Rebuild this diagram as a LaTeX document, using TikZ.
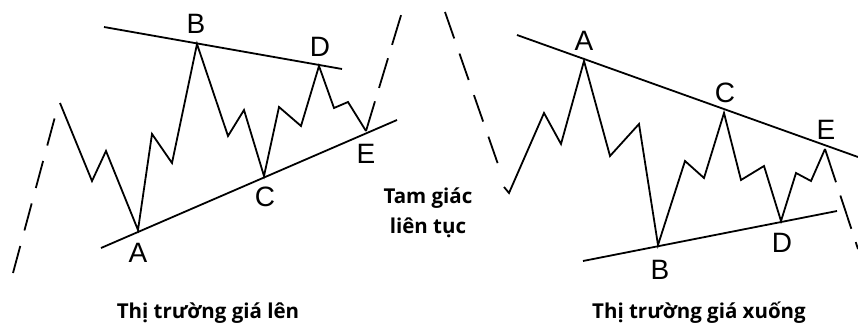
\documentclass[tikz,border=0pt]{standalone}
\usepackage{fontspec}
\setmainfont{Liberation Sans}
\newfontfamily\capfont{Open Sans}
\newcommand{\wavewidth}{1.8pt}
\tikzset{ptlabel/.style={inner sep=0pt, font=\fontsize{28}{28}\selectfont}}
\tikzset{wave/.style={line width=\wavewidth, line join=miter}}
\tikzset{trendline/.style={line width=\wavewidth}}
\tikzset{contline/.style={line width=\wavewidth, dash pattern=on 28pt off 16pt}}
\tikzset{caption/.style={inner sep=0pt, anchor=base, align=center, font=\capfont\bfseries\fontsize{20.5}{30}\selectfont}}

\begin{document}
\begin{tikzpicture}[x=1pt,y=-1pt]
\useasboundingbox (0,0) rectangle (858,326);

% rising market
\coordinate (la) at (138,230);
\coordinate (lb) at (197,44);
\coordinate (lc) at (264,176);
\coordinate (ld) at (319,66);
\coordinate (le) at (366,131);

\draw[contline] (13,273) -- (56,113);
\draw[wave] (60,103) -- (92,181) -- (106,151) -- (la) -- (152,134) -- (172,163) -- (lb)
  -- (228,136) -- (244,110) -- (lc) -- (279,107) -- (301,126) -- (ld)
  -- (334,108) -- (348,102) -- (le);
\draw[contline, dash pattern=on 31pt off 14pt] (le) -- (402,12);

\draw[trendline] (104,27) -- (342,69);
\draw[trendline] (101,248) -- (397,120);

\node[ptlabel] (labelA1) at (138,253) {A};
\node[ptlabel] (labelB1) at (196,24) {B};
\node[ptlabel] (labelC1) at (265,197) {C};
\node[ptlabel] (labelD1) at (320,47) {D};
\node[ptlabel] (labelE1) at (366,154) {E};

% falling market
\coordinate (ra) at (584,61);
\coordinate (rb) at (658,245);
\coordinate (rc) at (724,113);
\coordinate (rd) at (781,221);
\coordinate (re) at (825,149);

\draw[contline] (445,12) -- (500,170);
\draw[wave] (504,187) -- (509,193) -- (544,113) -- (561,144) -- (ra) -- (610,156) -- (639,124)
  -- (rb) -- (685,161) -- (704,178) -- (rc) -- (741,180) -- (764,166) -- (rd)
  -- (796,173) -- (811,181) -- (re);
\draw[contline, dash pattern=on 35pt off 14pt] (re) -- (858,249);

\draw[trendline] (517,35) -- (858,157);
\draw[trendline] (583,261) -- (837,211);

\node[ptlabel] (labelA2) at (584,41) {A};
\node[ptlabel] (labelB2) at (660,270) {B};
\node[ptlabel] (labelC2) at (725,93) {C};
\node[ptlabel] (labelD2) at (782,243) {D};
\node[ptlabel] (labelE2) at (826,130) {E};

% captions
\node[caption] (middle) at (428,233) {Tam giác\\liên tục};
\node[caption] (leftcap) at (208,318) {Thị trường giá lên};
\node[caption] (rightcap) at (699,318) {Thị trường giá xuống};

\end{tikzpicture}
\end{document}
